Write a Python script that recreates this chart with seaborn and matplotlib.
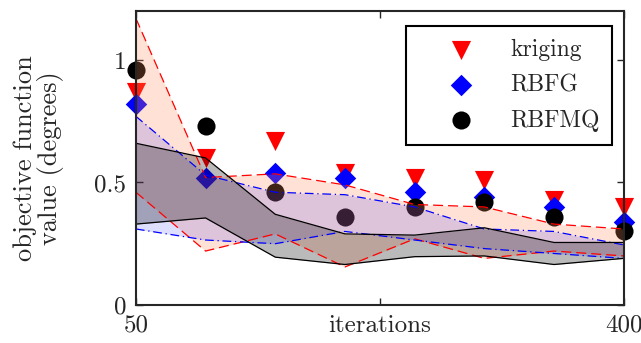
import numpy as np
import pandas as pd
import matplotlib
matplotlib.use("Agg")
import matplotlib.pyplot as plt
import seaborn as sns

# data
iters = [50, 100, 150, 200, 250, 300, 350, 400]

kriging = [0.87, 0.60, 0.67, 0.54, 0.52, 0.51, 0.43, 0.40]
rbfg = [0.82, 0.52, 0.54, 0.52, 0.46, 0.44, 0.40, 0.34]
rbfmq = [0.96, 0.73, 0.46, 0.36, 0.40, 0.42, 0.36, 0.30]

kriging_hi = [1.17, 0.52, 0.535, 0.49, 0.41, 0.40, 0.33, 0.31]
kriging_lo = [0.46, 0.22, 0.29, 0.155, 0.27, 0.19, 0.22, 0.20]
rbfg_hi = [0.77, 0.53, 0.46, 0.45, 0.40, 0.31, 0.30, 0.245]
rbfg_lo = [0.31, 0.265, 0.25, 0.30, 0.265, 0.23, 0.21, 0.19]
rbfmq_hi = [0.66, 0.60, 0.37, 0.29, 0.285, 0.315, 0.255, 0.255]
rbfmq_lo = [0.33, 0.355, 0.195, 0.165, 0.197, 0.20, 0.165, 0.19]

sns.set_style("ticks")
plt.rcParams["font.family"] = ["cmr10", "DejaVu Serif"]
plt.rcParams["axes.formatter.use_mathtext"] = True
plt.rcParams["xtick.direction"] = "in"
plt.rcParams["ytick.direction"] = "in"

fig = plt.figure(figsize=(6.41, 3.43), dpi=100)
ax = fig.add_axes([0.212, 0.111, 0.761, 0.857])

# markers first, bands are drawn over them
mk = dict(clip_on=False, zorder=2, linewidth=0)
sns.scatterplot(x=iters, y=kriging, marker="v", color="red", s=190, ax=ax, label="kriging", **mk)
sns.scatterplot(x=iters, y=rbfg, marker="D", color="blue", s=120, ax=ax, label="RBFG", **mk)
sns.scatterplot(x=iters, y=rbfmq, marker="o", color="black", s=170, ax=ax, label="RBFMQ", **mk)

# bands
ax.fill_between(iters, kriging_lo, kriging_hi, color=(1.0, 0.55, 0.35), alpha=0.25, lw=0, zorder=3)
ax.fill_between(iters, rbfg_lo, rbfg_hi, color=(0.0, 0.0, 1.0), alpha=0.13, lw=0, zorder=3)
ax.fill_between(iters, rbfmq_lo, rbfmq_hi, color="black", alpha=0.27, lw=0, zorder=3)

for lo, hi, col, ds in [(kriging_lo, kriging_hi, "red", (8, 4)),
                        (rbfg_lo, rbfg_hi, "blue", (7, 3, 1, 3)),
                        (rbfmq_lo, rbfmq_hi, "black", None)]:
    for arr in (lo, hi):
        sns.lineplot(x=iters, y=arr, color=col, lw=0.9, ax=ax, zorder=4, legend=False)
        l = ax.lines[-1]
        if ds is not None:
            l.set_dashes(ds)

ax.set_xlim(50, 400)
ax.set_ylim(0, 1.2)
ax.set_xticks([50, 225, 400])
ax.set_xticklabels(["50", "iterations", "400"])
ax.set_yticks([0, 0.5, 1])
ax.set_yticklabels(["0", "0.5", "1"])
ax.tick_params(top=True, right=True, labelsize=18, length=5, width=1, pad=7)
ax.set_ylabel("objective function\nvalue (degrees)", fontsize=19, labelpad=22,
              linespacing=1.0)
for sp in ax.spines.values():
    sp.set_linewidth(1.5)
    sp.set_zorder(6)

leg = ax.legend(loc="upper right", bbox_to_anchor=(0.977, 0.949), borderaxespad=0,
                fontsize=17, frameon=True, fancybox=False, edgecolor="black",
                framealpha=1, borderpad=0.55, labelspacing=0.55,
                handlelength=3.5, handletextpad=0.35)
leg.get_frame().set_linewidth(1.5)
leg.set_zorder(10)

fig.savefig("out.png", dpi=100)
